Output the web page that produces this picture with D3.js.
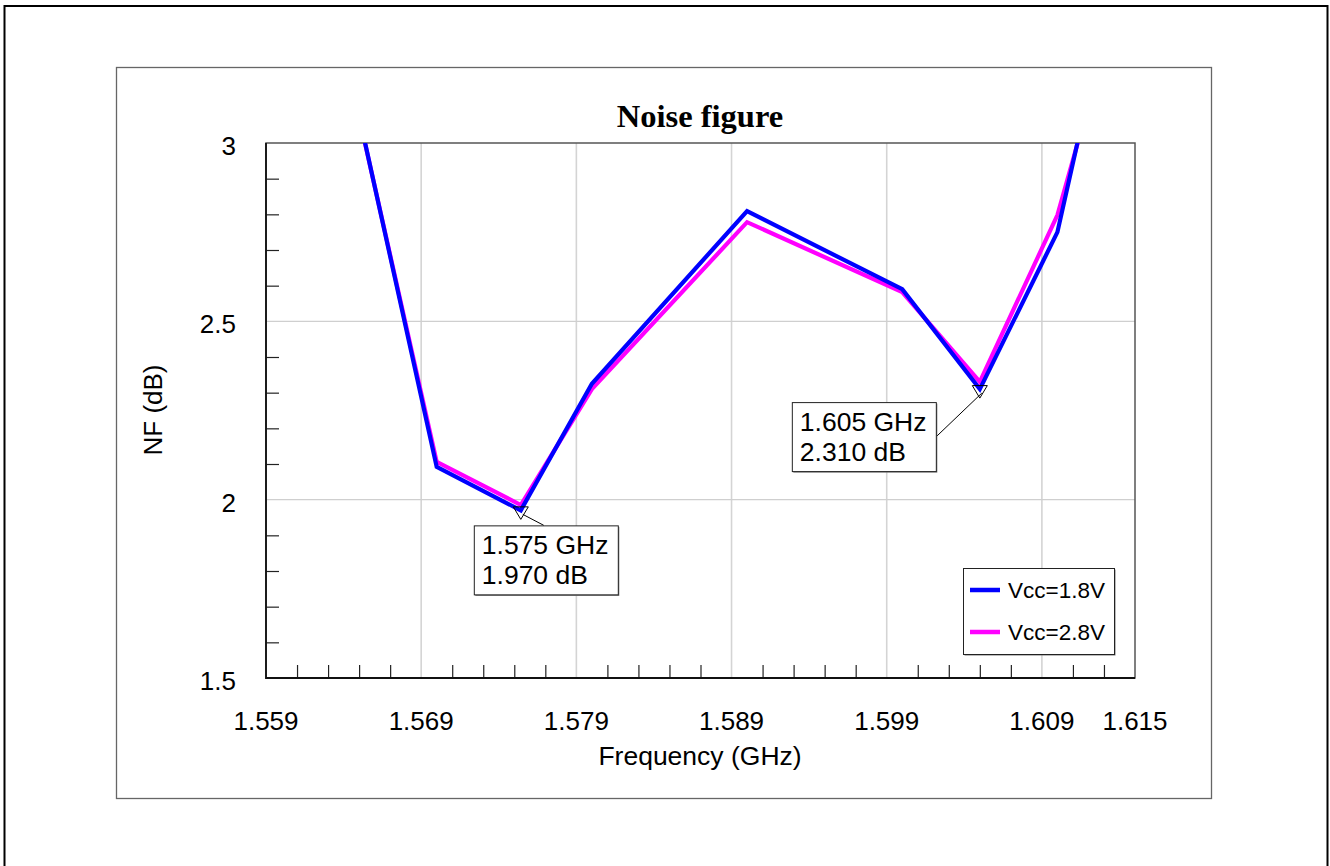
<!DOCTYPE html>
<html>
<head>
<meta charset="utf-8">
<script src="https://cdn.jsdelivr.net/npm/d3@7"></script>
<style>
  html, body { margin: 0; padding: 0; background: #fff; }
  svg { display: block; }
  text { font-family: "Liberation Sans", Arial, sans-serif; fill: #000; }
  text.title { font-family: "Liberation Serif", "Times New Roman", serif; font-weight: bold; }
</style>
</head>
<body>
<svg id="chart" width="1330" height="866"></svg>
<script>
// Noise figure sweep, two supply voltages
const freqGHz   = [1.560, 1.570, 1.57542, 1.580, 1.590, 1.600, 1.605, 1.610, 1.615];
const nfVcc18   = [4.06, 2.092, 1.970, 2.325, 2.809, 2.590, 2.310, 2.750, 3.72];
const nfVcc28   = [4.04, 2.106, 1.985, 2.310, 2.778, 2.582, 2.330, 2.798, 3.57];
const seriesNames  = ["Vcc=1.8V", "Vcc=2.8V"];
const seriesColors = ["#0000ff", "#ff00ff"];

const xTickLabels = [1.559, 1.569, 1.579, 1.589, 1.599, 1.609, 1.615];
const xGridValues = [1.569, 1.579, 1.589, 1.599, 1.609];
const yTickLabels = [1.5, 2, 2.5, 3];
const yGridValues = [2, 2.5];

// marker readouts (index into freqGHz, series 0)
const markerIdx    = [2, 6];
const markerLabels = [["1.575 GHz", "1.970 dB"], ["1.605 GHz", "2.310 dB"]];

const svg = d3.select("#chart");
const plot = { left: 266, right: 1135, top: 143, bottom: 678 };

const x = d3.scaleLinear().domain([1.559, 1.615]).range([plot.left, plot.right]);
const y = d3.scaleLinear().domain([1.5, 3]).range([plot.bottom, plot.top]);

// outer page frame and inner chart frame
svg.append("rect").attr("x", 4.5).attr("y", 6).attr("width", 1323).attr("height", 900)
  .attr("fill", "none").attr("stroke", "#000").attr("stroke-width", 2);
svg.append("rect").attr("x", 116.5).attr("y", 67.5).attr("width", 1095).attr("height", 731)
  .attr("fill", "none").attr("stroke", "#666").attr("stroke-width", 1.3);

// grid
const grid = svg.append("g");
grid.selectAll(".gx").data(xGridValues).join("line")
  .attr("x1", d => x(d)).attr("x2", d => x(d))
  .attr("y1", plot.top).attr("y2", plot.bottom)
  .attr("stroke", "#d4d4d4").attr("stroke-width", 1.6);
grid.selectAll(".gy").data(yGridValues).join("line")
  .attr("x1", plot.left).attr("x2", plot.right)
  .attr("y1", d => y(d)).attr("y2", d => y(d))
  .attr("stroke", "#cfcfcf").attr("stroke-width", 1.3);

// minor ticks (inward)
const xMinor = d3.range(1, 28).map(i => 1.559 + i * 0.002).filter(v => !xGridValues.some(g => Math.abs(g - v) < 1e-6));
const yMinor = d3.range(1, 15).map(i => 1.5 + i * 0.1).filter(v => !yGridValues.some(g => Math.abs(g - v) < 1e-6));
const xAxis = d3.axisBottom(x).tickValues(xMinor).tickSize(-13).tickFormat("");
const yAxis = d3.axisLeft(y).tickValues(yMinor).tickSize(-13).tickFormat("");
const gx = svg.append("g").attr("transform", `translate(0,${plot.bottom})`).call(xAxis);
const gy = svg.append("g").attr("transform", `translate(${plot.left},0)`).call(yAxis);
[gx, gy].forEach(g => {
  g.select(".domain").remove();
  g.selectAll(".tick line").attr("stroke", "#222").attr("stroke-width", 1.2);
});

// plot frame
svg.append("rect").attr("x", plot.left).attr("y", plot.top)
  .attr("width", plot.right - plot.left).attr("height", plot.bottom - plot.top)
  .attr("fill", "none").attr("stroke", "#555").attr("stroke-width", 1.5);
svg.append("line").attr("x1", plot.left).attr("x2", plot.left).attr("y1", plot.top).attr("y2", plot.bottom + 1)
  .attr("stroke", "#111").attr("stroke-width", 1.8);
svg.append("line").attr("x1", plot.left).attr("x2", plot.right).attr("y1", plot.bottom).attr("y2", plot.bottom)
  .attr("stroke", "#111").attr("stroke-width", 1.8);

// tick labels
svg.append("g").selectAll("text").data(xTickLabels).join("text")
  .attr("x", d => x(d)).attr("y", 730).attr("text-anchor", "middle")
  .attr("font-size", 26).text(d => d3.format(".3f")(d));
svg.append("g").selectAll("text").data(yTickLabels).join("text")
  .attr("x", 236).attr("y", d => y(d) + 12).attr("text-anchor", "end")
  .attr("font-size", 26).text(d => String(d));

// axis titles
svg.append("text").attr("x", 700).attr("y", 765).attr("text-anchor", "middle")
  .attr("font-size", 26.5).text("Frequency (GHz)");
svg.append("text").attr("transform", "translate(162,410) rotate(-90)").attr("text-anchor", "middle")
  .attr("font-size", 26).text("NF (dB)");
svg.append("text").attr("class", "title").attr("x", 700).attr("y", 127).attr("text-anchor", "middle")
  .attr("font-size", 32.5).text("Noise figure");

// series lines, clipped to the plot area
svg.append("clipPath").attr("id", "plotClip").append("rect")
  .attr("x", plot.left).attr("y", plot.top)
  .attr("width", plot.right - plot.left).attr("height", plot.bottom - plot.top);
const line = d3.line().x(d => x(d[0])).y(d => y(d[1]));
const series = [nfVcc18, nfVcc28];
const lines = svg.append("g").attr("clip-path", "url(#plotClip)");
[1, 0].forEach(i => {
  lines.append("path")
    .attr("d", line(freqGHz.map((f, j) => [f, series[i][j]])))
    .attr("fill", "none").attr("stroke", seriesColors[i])
    .attr("stroke-width", 4.2).attr("stroke-linejoin", "miter");
});

// marker readouts
const boxOffsets = [{ dx: -47, dy: 15 }, { dx: -188, dy: 13 }];
const leaderEnds = [{ bx: 70, by: 0 }, { bx: 144, by: 35 }];
markerIdx.forEach((idx, k) => {
  const px = x(freqGHz[idx]), py = y(nfVcc18[idx]);
  const g = svg.append("g");
  const bx = px + boxOffsets[k].dx, by = py + boxOffsets[k].dy;
  const bw = 144, bh = 69;
  g.append("line").attr("x1", px + 2).attr("y1", py + 4)
    .attr("x2", bx + leaderEnds[k].bx).attr("y2", by + leaderEnds[k].by)
    .attr("stroke", "#000").attr("stroke-width", 1);
  g.append("path").attr("d", `M${px - 7.5},${py - 3.5} L${px + 7.5},${py - 3.5} L${px},${py + 9} Z`)
    .attr("fill", "none").attr("stroke", "#000").attr("stroke-width", 1);
  g.append("rect").attr("x", bx + 1.5).attr("y", by + 1.5).attr("width", bw).attr("height", bh)
    .attr("fill", "#777");
  g.append("rect").attr("x", bx + 0.5).attr("y", by + 0.5).attr("width", bw).attr("height", bh)
    .attr("fill", "#fff").attr("stroke", "#222").attr("stroke-width", 1);
  markerLabels[k].forEach((t, j) => {
    g.append("text").attr("x", bx + 8).attr("y", by + 29 + j * 30)
      .attr("font-size", 26.5).text(t);
  });
});

// legend
const lg = svg.append("g").attr("transform", "translate(963,568)");
lg.append("rect").attr("x", 1.5).attr("y", 1.5).attr("width", 151).attr("height", 86).attr("fill", "#777");
lg.append("rect").attr("x", 0.5).attr("y", 0.5).attr("width", 151).attr("height", 86)
  .attr("fill", "#fff").attr("stroke", "#222").attr("stroke-width", 1);
seriesNames.forEach((name, i) => {
  const ly = 22 + i * 42;
  lg.append("line").attr("x1", 7).attr("x2", 37).attr("y1", ly).attr("y2", ly)
    .attr("stroke", seriesColors[i]).attr("stroke-width", 4.5);
  lg.append("text").attr("x", 45).attr("y", ly + 8).attr("font-size", 22.5).text(name);
});
</script>
</body>
</html>
